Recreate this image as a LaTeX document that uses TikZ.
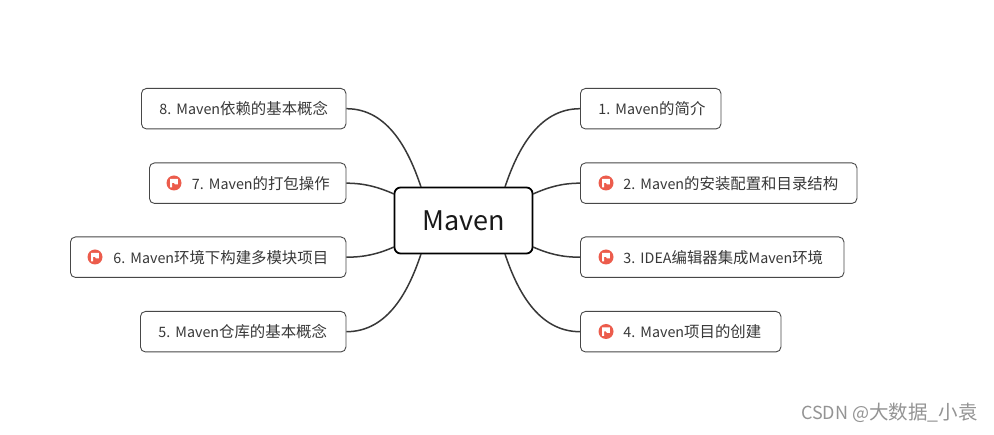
\documentclass[tikz,border=0pt]{standalone}
\usepackage{fontspec}
\setmainfont{Noto Sans CJK SC}
\newcommand\latn[1]{{\fontsize{14.3}{16}\selectfont #1}}
\definecolor{iconred}{HTML}{EC5C4C}
\tikzset{
  x=1pt,y=-1pt,
  box/.style={draw=black!72,line width=0.9pt,rounded corners=5pt,anchor=west,minimum height=40.5pt,inner xsep=0pt,inner ysep=0pt,align=left,font=\fontsize{15.4}{17}\selectfont\frenchspacing,text=black!78},
  root/.style={draw=black,line width=1.8pt,rounded corners=6pt,minimum width=138pt,minimum height=66pt,font=\fontsize{27}{30}\selectfont,text=black!90},
  link/.style={draw=black!78,line width=1.5pt},
  flagicon/.style={circle,fill=iconred,minimum size=15pt,inner sep=0pt,path picture={
    \fill[white] ([shift={(-3.8pt,4.2pt)}]path picture bounding box.center) -- ++(7.8pt,0pt) -- ++(-0.2pt,-5.6pt) -- ++(-2.8pt,0pt) -- ++(-1pt,1.5pt) -- ++(-1.8pt,0pt) -- ++(0pt,-4.6pt) -- ++(-2pt,0pt) -- cycle;}},
}
\begin{document}
\begin{tikzpicture}
\useasboundingbox (0,0) rectangle (994,435);
\fill[white] (0,0) rectangle (994,435);
\node[root] (c) at (463.5,220.5) {Maven};
\node[box,text width=204.5pt] (n8) at (141,108.7) {\hspace*{18pt}\latn{8. Maven}依赖的基本概念};
\node[box,text width=196.5pt] (n7) at (149,183.2) {\hspace*{42.5pt}\latn{7. Maven}的打包操作};
\node[box,text width=275.5pt] (n6) at (70,257.2) {\hspace*{43pt}\latn{6. Maven}环境下构建多模块项目};
\node[box,text width=205.5pt] (n5) at (140,331.7) {\hspace*{18pt}\latn{5. Maven}仓库的基本概念};
\node[box,text width=140.5pt] (n1) at (580,108.7) {\hspace*{18pt}\latn{1. Maven}的简介};
\node[box,text width=276.5pt] (n2) at (580,183.2) {\hspace*{43pt}\latn{2. Maven}的安装配置和目录结构};
\node[box,text width=263.5pt] (n3) at (580,257.2) {\hspace*{43pt}\latn{3. IDEA}编辑器集成\latn{Maven}环境};
\node[box,text width=200.5pt] (n4) at (580,331.7) {\hspace*{43pt}\latn{4. Maven}项目的创建};
\node[flagicon] (i7) at (174,183) {};
\node[flagicon] (i6) at (95,257) {};
\node[flagicon] (i2) at (606,183) {};
\node[flagicon] (i3) at (606,257) {};
\node[flagicon] (i4) at (606,331.5) {};
\coordinate (c8) at (421,187);
\coordinate (c7) at (394,194);
\coordinate (c6) at (394,247);
\coordinate (c5) at (421,254);
\coordinate (c1) at (505,187);
\coordinate (c2) at (533,194);
\coordinate (c3) at (533,247);
\coordinate (c4) at (505,254);
\draw[link] (n8.east) .. controls +(42,0) and +(-12,-36) .. (c8);
\draw[link] (n7.east) .. controls +(18,0) and +(-16,-7) .. (c7);
\draw[link] (n6.east) .. controls +(18,0) and +(-16,7) .. (c6);
\draw[link] (n5.east) .. controls +(42,0) and +(-12,36) .. (c5);
\draw[link] (n1.west) .. controls +(-42,0) and +(12,-36) .. (c1);
\draw[link] (n2.west) .. controls +(-18,0) and +(16,-7) .. (c2);
\draw[link] (n3.west) .. controls +(-18,0) and +(16,7) .. (c3);
\draw[link] (n4.west) .. controls +(-42,0) and +(12,36) .. (c4);
\node[text=black!42,anchor=east,inner sep=0pt] (wm) at (978,413) {\fontsize{18}{20}\selectfont CSDN @\fontsize{19.5}{20}\selectfont 大数据\_小袁};
\end{tikzpicture}
\end{document}
